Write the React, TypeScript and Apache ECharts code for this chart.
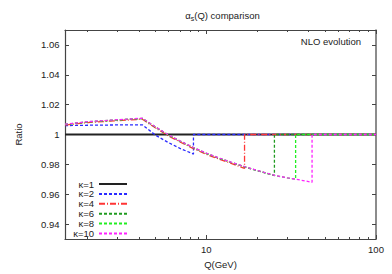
import React, { useEffect, useRef } from "react";
import * as echarts from "echarts";

// Q sample points (GeV)
const qGrid = [1.47, 2, 3, 4.2, 5, 6, 7, 8.4, 10, 12, 14, 16.8, 20, 25.2, 30, 33.6, 42, 50, 70, 100];

const seriesNames = ["κ=1", "κ=2", "κ=4", "κ=6", "κ=8", "κ=10"];
// threshold (κ·m_b) where each ratio jumps back to 1; null = none
const thresholds = [null, 8.4, 16.8, 25.2, 33.6, 42];

const ratioK1 = [1, 1, 1, 1, 1, 1, 1, 1, 1, 1, 1, 1, 1, 1, 1, 1, 1, 1, 1, 1];
const ratioK2 = [1.006, 1.0062, 1.0064, 1.0065, 0.9997, 0.9945, 0.9907, 0.9869, 1, 1, 1, 1, 1, 1, 1, 1, 1, 1, 1, 1];
const ratioK4 = [1.0063, 1.008, 1.0093, 1.0102, 1.0045, 0.999, 0.995, 0.9905, 0.9867, 0.9833, 0.9807, 0.9773, 1, 1, 1, 1, 1, 1, 1, 1];
const ratioK6 = [1.0067, 1.0084, 1.0097, 1.0107, 1.005, 0.9995, 0.9955, 0.9911, 0.9873, 0.9839, 0.9813, 0.9783, 0.9757, 0.9725, 1, 1, 1, 1, 1, 1];
const ratioK8 = [1.0068, 1.0085, 1.0098, 1.0108, 1.0051, 0.9996, 0.9956, 0.9912, 0.9874, 0.984, 0.9814, 0.9784, 0.9758, 0.9726, 0.9709, 0.9701, 1, 1, 1, 1];
const ratioK10 = [1.0069, 1.0086, 1.0099, 1.0109, 1.0052, 0.9997, 0.9957, 0.9913, 0.9875, 0.9841, 0.9815, 0.9785, 0.9759, 0.9727, 0.971, 0.9701, 0.968, 1, 1, 1];

const ratios = [ratioK1, ratioK2, ratioK4, ratioK6, ratioK8, ratioK10];

const yTicks = [0.94, 0.96, 0.98, 1, 1.02, 1.04, 1.06];
const xMajorTicks = [10, 100];
const xMinorTicks = [2, 3, 4, 5, 6, 7, 8, 9, 20, 30, 40, 50, 60, 70, 80, 90];

const colors = ["#222222", "#2b2bff", "#ff3535", "#1f9a1f", "#22ee22", "#ff22ff"];
const dashes: any[] = ["solid", [3, 2], [6, 2, 1, 2], [3, 2], [3, 2], [3, 2]];
const widths = [2, 1.3, 1.3, 1.3, 1.3, 1.3];

function buildData(vals: number[], thr: number | null) {
  const out: number[][] = [];
  qGrid.forEach((q, i) => {
    out.push([q, vals[i]]);
    if (thr !== null && q === thr) out.push([q, 1]);
  });
  return out;
}

const FONT = "Liberation Sans, Arial, sans-serif";
const FS = 9.5;

export default function App() {
  const ref = useRef<HTMLDivElement>(null);
  useEffect(() => {
    if (!ref.current) return;
    document.body.style.margin = "0";
    const chart = echarts.init(ref.current, undefined, { renderer: "svg" });
    const axisLine = { show: true, lineStyle: { color: "#444", width: 1.2 } };
    const xCommon = { type: "log", logBase: 10, min: 1.47, max: 100, splitLine: { show: false } };
    const yCommon = { type: "value", min: 0.93, max: 1.07, splitLine: { show: false } };
    chart.setOption({
      animation: false,
      textStyle: { fontFamily: FONT },
      grid: { left: 65, right: 16, top: 30, bottom: 32 },
      xAxis: [
        {
          ...xCommon,
          position: "bottom",
          name: "Q(GeV)",
          nameLocation: "middle",
          nameGap: 20,
          nameTextStyle: { fontSize: FS, color: "#222", fontFamily: FONT },
          axisLine,
          axisTick: { show: true, inside: true, length: 4, customValues: xMajorTicks, lineStyle: { color: "#444" } },
          axisLabel: { show: true, customValues: xMajorTicks, fontSize: FS, color: "#222", margin: 5, fontFamily: FONT },
        },
        {
          ...xCommon,
          position: "bottom",
          axisLine: { show: false },
          axisTick: { show: true, inside: true, length: 2, customValues: xMinorTicks, lineStyle: { color: "#444" } },
          axisLabel: { show: false },
        },
        {
          ...xCommon,
          position: "top",
          axisLine,
          axisTick: { show: true, inside: true, length: 4, customValues: xMajorTicks, lineStyle: { color: "#444" } },
          axisLabel: { show: false },
        },
        {
          ...xCommon,
          position: "top",
          axisLine: { show: false },
          axisTick: { show: true, inside: true, length: 2, customValues: xMinorTicks, lineStyle: { color: "#444" } },
          axisLabel: { show: false },
        },
      ],
      yAxis: [
        {
          ...yCommon,
          position: "left",
          name: "Ratio",
          nameLocation: "middle",
          nameGap: 42,
          nameRotate: 90,
          nameTextStyle: { fontSize: FS, color: "#222", fontFamily: FONT },
          axisLine,
          axisTick: { show: true, inside: true, length: 4, customValues: yTicks, lineStyle: { color: "#444" } },
          axisLabel: {
            show: true,
            customValues: yTicks,
            fontSize: FS,
            color: "#222",
            margin: 5.5,
            fontFamily: FONT,
            formatter: (v: number) => (Math.abs(v - 1) < 1e-9 ? "1" : Number(v).toFixed(2)),
          },
        },
        {
          ...yCommon,
          position: "right",
          axisLine: { show: true, lineStyle: { color: "#666", width: 1.5 } },
          axisTick: { show: true, inside: true, length: 4, customValues: yTicks, lineStyle: { color: "#444" } },
          axisLabel: { show: false },
        },
      ],
      legend: seriesNames.map((name, i) => ({
        orient: "vertical",
        right: 264,
        top: 179 + i * 9.9,
        align: "right",
        padding: 0,
        itemWidth: 28,
        itemHeight: 8,
        itemStyle: { opacity: 0 },
        data: [name],
        textStyle: { fontSize: FS, color: "#222", fontFamily: FONT },
      })),
      graphic: [
        {
          type: "text",
          x: 222.5,
          y: 15,
          style: {
            text: "{a|α}{s|s}{a|(Q) comparison}",
            textAlign: "center",
            textVerticalAlign: "middle",
            fill: "#222",
            rich: {
              a: { fontSize: FS, lineHeight: 13, verticalAlign: "middle", fontFamily: FONT, fill: "#222" },
              s: { fontSize: 7, lineHeight: 13, verticalAlign: "bottom", fontFamily: FONT, fill: "#222" },
            },
          },
        },
        {
          type: "text",
          x: 361,
          y: 41,
          style: {
            text: "NLO evolution",
            textAlign: "right",
            textVerticalAlign: "middle",
            fontSize: FS,
            fontFamily: FONT,
            fill: "#222",
          },
        },
      ],
      series: seriesNames.map((name, k) => ({
        name,
        type: "line",
        xAxisIndex: 0,
        yAxisIndex: 0,
        symbol: "none",
        showSymbol: false,
        color: colors[k],
        lineStyle: { color: colors[k], width: widths[k], type: dashes[k] },
        data: buildData(ratios[k], thresholds[k]),
        z: 2 + k,
      })),
    });
    return () => chart.dispose();
  }, []);
  return <div ref={ref} style={{ width: 392, height: 274 }} />;
}
